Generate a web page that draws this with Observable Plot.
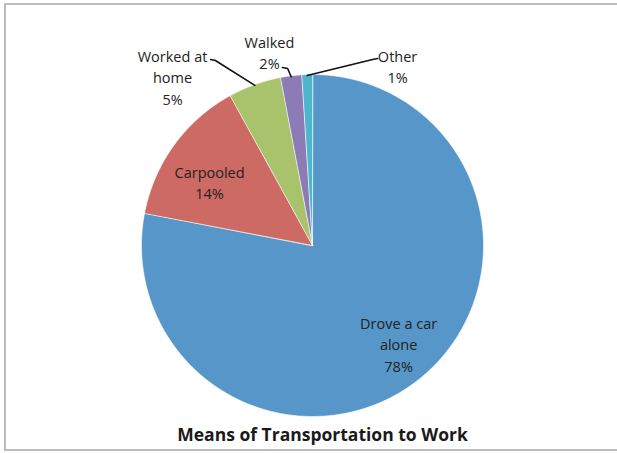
<!DOCTYPE html>
<html>
<head>
<meta charset="utf-8">
<script src="https://cdn.jsdelivr.net/npm/d3@7"></script>
<script src="https://cdn.jsdelivr.net/npm/@observablehq/plot@0.6"></script>
<style>
  html, body { margin: 0; padding: 0; background: #fff; }
  #wrap { position: relative; width: 617px; height: 453px; overflow: hidden; }
  #border { position: absolute; left: 4px; top: 3px; width: 700px; height: 444px; border: 2px solid #bdbdbd; border-right: none; }
  #chart { position: absolute; left: 0; top: 0; }
</style>
</head>
<body>
<div id="wrap"><div id="border"></div><div id="chart"></div></div>
<script>
// ---- data ----
const categories = ["Drove a car alone", "Carpooled", "Worked at home", "Walked", "Other"];
const percents = [78, 14, 5, 2, 1];
const labelTexts = ["Drove a car\nalone\n78%", "Carpooled\n14%", "Worked at\nhome\n5%", "Walked\n2%", "Other\n1%"];
const colors = ["#5796C9", "#CE6A64", "#A9C36C", "#8D7BB5", "#4DB6CC"];
const title = "Means of Transportation to Work";

// ---- layout (polar placement of labels: angle in degrees clockwise from top, radius as fraction of R) ----
const labelPlacement = [
  {a: 138.7, r: 0.763},
  {a: 301.9, r: 0.709},
  {a: 320.4, r: 1.284},
  {a: 347.5, r: 1.162},
  {a: 25.3,  r: 1.164}
];
const leaderPlacement = [
  null,
  null,
  [{a: 331.3, r: 1.240}, {a: 332.3, r: 1.222}],
  [{a: 350.4, r: 1.056}, {a: 352.0, r: 1.045}],
  [{a: 19.2,  r: 1.158}, {a: 17.9,  r: 1.143}]
];

const rad = Math.PI / 180;
const pt = (theta, r) => [r * Math.sin(theta), r * Math.cos(theta)];

const arcs = d3.pie().sort(null).value(d => d)(percents);

const slices = arcs.map((arc, i) => {
  const coords = [[0, 0]];
  const n = Math.max(8, Math.ceil((arc.endAngle - arc.startAngle) / (0.5 * rad)));
  for (let k = 0; k <= n; k++) {
    const t = arc.startAngle + (arc.endAngle - arc.startAngle) * k / n;
    coords.push(pt(t, 1));
  }
  coords.push([0, 0]);
  return {type: "Feature", properties: {category: categories[i]}, geometry: {type: "Polygon", coordinates: [coords]}};
});

const labels = arcs.map((arc, i) => {
  const p = pt(labelPlacement[i].a * rad, labelPlacement[i].r);
  return {x: p[0], y: p[1], text: labelTexts[i]};
});

const leaders = [];
arcs.forEach((arc, i) => {
  const lp = leaderPlacement[i];
  if (!lp) return;
  const mid = (arc.startAngle + arc.endAngle) / 2;
  leaders.push({type: "Feature", properties: {}, geometry: {type: "LineString",
    coordinates: [pt(lp[0].a * rad, lp[0].r), pt(lp[1].a * rad, lp[1].r), pt(mid, 0.995)]}});
});

const W = 617, H = 453;
const plot = Plot.plot({
  width: W,
  height: H,
  marginLeft: 141,
  marginRight: 134,
  marginTop: 74,
  marginBottom: 37,
  projection: {type: "reflect-y", domain: {type: "MultiPoint", coordinates: [[-1, -1], [1, 1]]}, inset: 0, clip: false},
  color: {domain: categories, range: colors},
  style: {fontFamily: "'Open Sans', sans-serif", background: "transparent", overflow: "visible"},
  marks: [
    Plot.geo(slices, {fill: d => d.properties.category, stroke: "white", strokeWidth: 0.6}),
    Plot.geo(leaders, {stroke: "#111", strokeWidth: 1.6, fill: "none"}),
    Plot.text(labels, {x: "x", y: "y", text: "text", fontSize: 14.5, lineHeight: 1.5, fill: "#222", textAnchor: "middle", lineAnchor: "middle", letterSpacing: "-0.2px"}),
    Plot.text([title], {frameAnchor: "bottom", dx: 10, dy: 19, text: d => d, fontSize: 17.5, fontWeight: "bold", fill: "#1a1a1a", lineAnchor: "middle", letterSpacing: "-0.1px"})
  ]
});
document.getElementById("chart").appendChild(plot);
</script>
</body>
</html>
